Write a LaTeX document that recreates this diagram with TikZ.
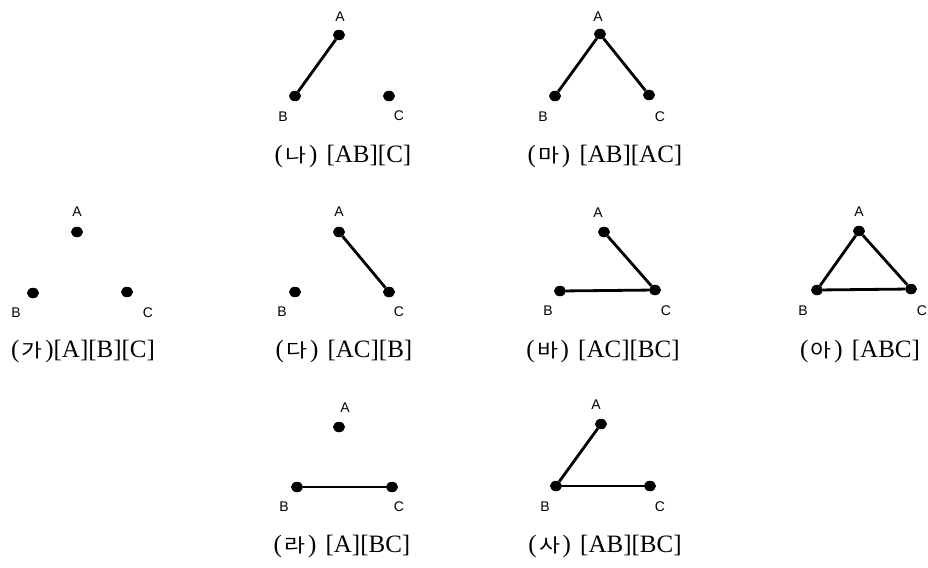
\documentclass[tikz,border=0pt]{standalone}
\usepackage{fontspec}
\usepackage{graphicx}
\setmainfont{Liberation Serif}
\newfontfamily\lblfont{Liberation Sans}
\newfontfamily\krfont{Noto Sans CJK KR}
\newcommand\kl[1]{(\kern2.5pt\scalebox{1.2}[1]{\krfont\fontsize{19}{19}\selectfont #1}\kern2.5pt)}
\usetikzlibrary{shapes.geometric}
\tikzset{
  vtx/.style={ellipse,fill=black,inner sep=0pt,minimum width=12pt,minimum height=10.5pt},
  edge/.style={line width=2.8pt},
  lbl/.style={font=\lblfont\fontsize{14}{14}\selectfont,inner sep=0pt},
  captxt/.style={font=\fontsize{25}{25}\selectfont,inner sep=0pt,anchor=base},
}
\begin{document}
\begin{tikzpicture}[x=1pt,y=-1pt]
\useasboundingbox (0,0) rectangle (928,567);
% (ga)
\node[vtx] (gaA) at (77,232) {};
\node[vtx] (gaB) at (33,293) {};
\node[vtx] (gaC) at (127,292) {};
\node[lbl] (gaLA) at (77,212) {A};
\node[lbl] (gaLB) at (16,313) {B};
\node[lbl] (gaLC) at (148,313) {C};
\node[captxt] (gaCap) at (83,357) {\kl{가}[A][B][C]};
% (na)
\node[vtx] (naA) at (339,35) {};
\node[vtx] (naB) at (295,96) {};
\node[vtx] (naC) at (389,96) {};
\node[lbl] (naLA) at (340,17) {A};
\node[lbl] (naLB) at (283,117) {B};
\node[lbl] (naLC) at (399,116) {C};
\draw[edge] (naA) -- (naB);
\node[captxt] (naCap) at (343,162) {\kl{나}\kern3pt{} [AB][C]};
% (ma)
\node[vtx] (maA) at (600,34) {};
\node[vtx] (maB) at (555,96) {};
\node[vtx] (maC) at (649,95) {};
\node[lbl] (maLA) at (598,17) {A};
\node[lbl] (maLB) at (543,117) {B};
\node[lbl] (maLC) at (660,117) {C};
\draw[edge] (maA) -- (maB);
\draw[edge] (maA) -- (maC);
\node[captxt] (maCap) at (605,162) {\kl{마}\kern3pt{} [AB][AC]};
% (da)
\node[vtx] (daA) at (339,232) {};
\node[vtx] (daB) at (295,292) {};
\node[vtx] (daC) at (389,292) {};
\node[lbl] (daLA) at (339,212) {A};
\node[lbl] (daLB) at (282,312) {B};
\node[lbl] (daLC) at (399,312) {C};
\draw[edge] (daA) -- (daC);
\node[captxt] (daCap) at (344,357) {\kl{다}\kern3pt{} [AC][B]};
% (ba)
\node[vtx] (baA) at (604,232) {};
\node[vtx] (baB) at (560,291) {};
\node[vtx] (baC) at (655,290) {};
\node[lbl] (baLA) at (598,213) {A};
\node[lbl] (baLB) at (548,311) {B};
\node[lbl] (baLC) at (666,311) {C};
\draw[edge] (baA) -- (baC);
\draw[edge] (baB) -- (baC);
\node[captxt] (baCap) at (603,357) {\kl{바}\kern3pt{} [AC][BC]};
% (a)
\node[vtx] (aA) at (859,231) {};
\node[vtx] (aB) at (817,290) {};
\node[vtx] (aC) at (911,289) {};
\node[lbl] (aLA) at (859,212) {A};
\node[lbl] (aLB) at (803,311) {B};
\node[lbl] (aLC) at (922,311) {C};
\draw[edge] (aA) -- (aB);
\draw[edge] (aB) -- (aC);
\draw[edge] (aC) -- (aA);
\node[captxt] (aCap) at (860,357) {\kl{아}\kern3pt{} [ABC]};
% (ra)
\node[vtx] (raA) at (339,427) {};
\node[vtx] (raB) at (297,487) {};
\node[vtx] (raC) at (392,487) {};
\node[lbl] (raLA) at (345,408) {A};
\node[lbl] (raLB) at (284,507) {B};
\node[lbl] (raLC) at (399,507) {C};
\draw[edge] (raB) -- (raC);
\node[captxt] (raCap) at (342,552) {\kl{라}\kern3pt{} [A][BC]};
% (sa)
\node[vtx] (saA) at (601,424) {};
\node[vtx] (saB) at (556,486) {};
\node[vtx] (saC) at (650,486) {};
\node[lbl] (saLA) at (596,405) {A};
\node[lbl] (saLB) at (545,507) {B};
\node[lbl] (saLC) at (660,507) {C};
\draw[edge] (saA) -- (saB);
\draw[edge] (saB) -- (saC);
\node[captxt] (saCap) at (605,552) {\kl{사}\kern3pt{} [AB][BC]};
\end{tikzpicture}
\end{document}
